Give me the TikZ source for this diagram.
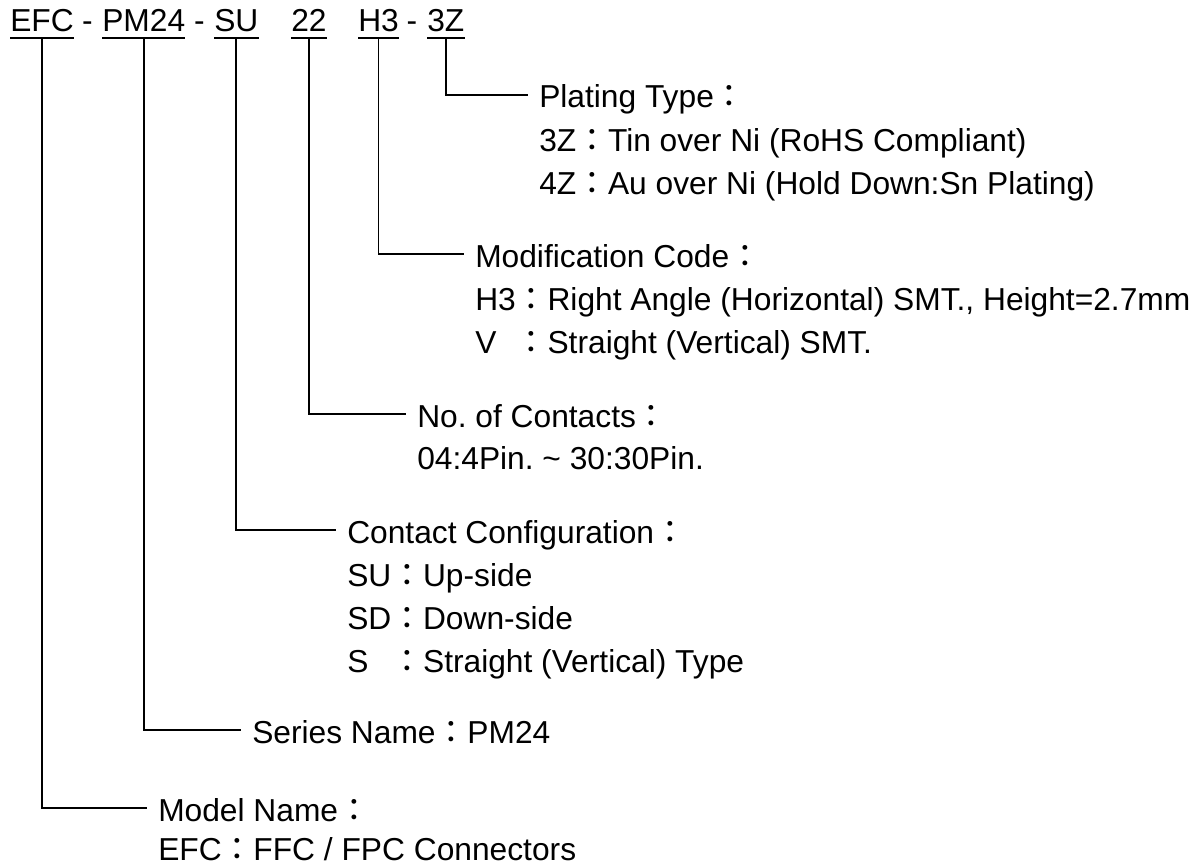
\documentclass[tikz,border=0pt]{standalone}
\usepackage{fontspec}
\setmainfont{Liberation Sans}
\newfontfamily\cjk{Noto Sans CJK TC}
\usepackage{tikz}
\frenchspacing

\newcommand{\fcolon}{{\cjk ：}}

\tikzset{
  code/.style={anchor=base west, inner xsep=0pt, inner ysep=0pt, text depth=4.5pt},
  head/.style={anchor=base west, inner sep=0pt, text height=19.5pt, text depth=0pt},
  item/.style={anchor=base west, inner sep=0pt},
  lead/.style={line width=1.4pt, shorten >=8pt},
  uline/.style={line width=1.4pt},
}

\begin{document}
\begin{tikzpicture}[x=0.75pt,y=0.75pt,yscale=-1,xscale=1,font=\fontsize{23.8}{32}\selectfont]
\useasboundingbox (0,0) rectangle (1203,867);

% part number
\node (efc) [code] at (10,32) {EFC};
\node (dash1) [anchor=base, inner sep=0pt] at (87.5,32) {-};
\node (pm) [code] at (102,32) {PM24};
\node (dash2) [anchor=base, inner sep=0pt] at (199.5,32) {-};
\node (su) [code] at (214,32) {SU};
\node (nc) [code] at (291,32) {22};
\node (hc) [code] at (358,32) {H3};
\node (dash3) [anchor=base, inner sep=0pt] at (412,32) {-};
\node (pc) [code] at (427,32) {3Z};

\foreach \n in {efc,pm,su,nc,hc,pc}
  \draw[uline] (\n.south west) -- (\n.south east);

% plating
\node (plathd) [head] at (539,108) {Plating Type\fcolon};
\node (plat1) [item] at (539,151) {3Z\fcolon Tin over Ni (RoHS Compliant)};
\node (plat2) [item] at (539,194) {4Z\fcolon Au over Ni (Hold Down:Sn Plating)};

% modification
\node (modhd) [head] at (475,267) {Modification Code\fcolon};
\node (mod1) [item] at (475,310) {H3\fcolon Right Angle (Horizontal) SMT., Height=2.7mm};
\node (mod2) [item] at (475,353) {\rlap{V}\hphantom{H3}\fcolon Straight (Vertical) SMT.};

% contacts
\node (conhd) [head] at (417,427) {No. of Contacts\fcolon};
\node (con1) [item] at (417,469) {04:4Pin. \textasciitilde{} 30:30Pin.};

% configuration
\node (cfghd) [head] at (347,543) {Contact Configuration\fcolon};
\node (cfg1) [item] at (347,586) {SU\fcolon Up-side};
\node (cfg2) [item] at (347,629) {SD\fcolon Down-side};
\node (cfg3) [item] at (347,672) {\rlap{S}\hphantom{SU}\fcolon Straight (Vertical) Type};

% series
\node (serhd) [head] at (252,743) {Series Name\fcolon PM24};

% model
\node (modelhd) [head] at (158,821) {Model Name\fcolon};
\node (model1) [item] at (158,860) {EFC\fcolon FFC / FPC Connectors};

% leaders
\draw[lead] (pc.south) |- (plathd.west);
\draw[lead] (hc.south) |- (modhd.west);
\draw[lead] (nc.south) |- (conhd.west);
\draw[lead] (su.south) |- (cfghd.west);
\draw[lead] (pm.south) |- (serhd.west);
\draw[lead] (efc.south) |- (modelhd.west);
\end{tikzpicture}
\end{document}
